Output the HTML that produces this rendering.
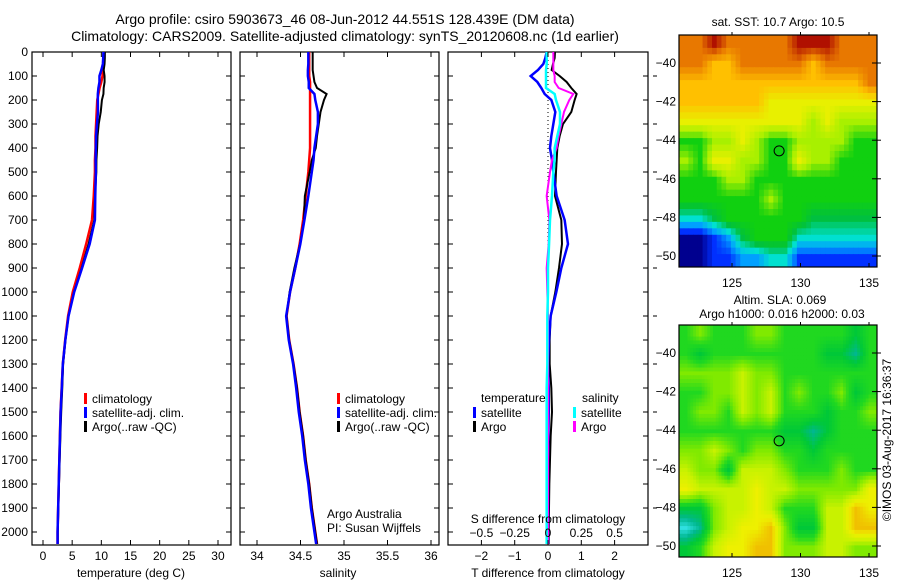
<!DOCTYPE html>
<html><head><meta charset="utf-8">
<style>
body{margin:0;background:#fff;}
svg{display:block;font-family:"Liberation Sans",sans-serif;}
text{font-size:12px;fill:#000;}
</style></head>
<body>
<svg id="c" width="900" height="580" viewBox="0 0 900 580">
<defs>
<clipPath id="m1c"><rect x="679" y="35" width="198" height="232"/></clipPath>
<clipPath id="m2c"><rect x="679" y="325" width="198" height="232"/></clipPath></defs>
<text x="345" y="24" text-anchor="middle" style="font-size:14px">Argo profile: csiro 5903673_46 08-Jun-2012 44.551S 128.439E (DM data)</text>
<text x="345" y="41" text-anchor="middle" style="font-size:14px">Climatology: CARS2009. Satellite-adjusted climatology: synTS_20120608.nc (1d earlier)</text>
</svg>
<script>
const depths=[0,25,50,75,100,125,150,175,200,250,300,350,400,450,500,600,700,800,900,1000,1100,1200,1300,1400,1500,1600,1700,1800,1900,2000,2050];
const tClim=[10.4,10.4,10.4,10.3,10.2,10.0,9.7,9.5,9.3,9.2,9.1,9.0,9.0,8.9,8.9,8.7,8.4,7.4,6.3,5.1,4.3,3.8,3.4,3.2,3.0,2.9,2.8,2.7,2.6,2.5,2.5];
const sClim=[34.60,34.60,34.60,34.60,34.60,34.61,34.61,34.61,34.61,34.61,34.61,34.61,34.61,34.60,34.59,34.56,34.53,34.49,34.44,34.38,34.34,34.37,34.42,34.46,34.49,34.53,34.56,34.60,34.63,34.67,34.69];
const tDiffArgo=[.21,.2,.15,.11,.35,.56,.7,.86,.8,.7,.45,.35,.28,.26,.24,.21,.4,.42,.33,.22,.08,.05,.05,.1,.12,.08,.06,.04,.03,.02,.02];
const tDiffSat=[-.04,-.08,-.14,-.3,-.52,-.32,-.2,-.1,.1,.22,.16,.1,.06,.12,.16,.26,.5,.6,.4,.25,.08,.03,0,.02,.02,.01,0,0,0,0,0];
const sDiffArgo=[.04,.04,.04,.04,.05,.05,.08,.19,.16,.12,.1,.08,.065,.03,.015,-.01,.01,.005,-.01,-.005,0,0,0,0,0,0,0,0,0,0,0];
const sDiffSat=[-.01,-.01,-.01,-.015,-.015,-.015,-.015,.05,.06,.09,.09,.07,.05,.05,.04,.03,.015,.008,0,0,-.005,-.005,-.005,-.01,-.01,-.01,-.01,-.01,-.01,-.01,-.01];
const depthTicks=[0,100,200,300,400,500,600,700,800,900,1000,1100,1200,1300,1400,1500,1600,1700,1800,1900,2000];
const tempTicks=[0,5,10,15,20,25,30];
const salTicks=[34,34.5,35,35.5,36];
const tdTicks=[-2,-1,0,1,2];
const sdTicks=[-0.5,-0.25,0,0.25,0.5];
const sstGrid=["99a99999aaa999","99889999989999","88888888888889","88888877777777","77777777767666","55667655666655","65776655766555","55566555555555","55555565555555","33455555544444","00124555333333","00112233111111"];
const slaGrid=["34333443333323","32333333332213","44445443333333","33445453433423","34435453332334","33333332212333","44543443323333","54425554333433","65555655444446","22455653335576","01456674225577","23566774445544"];
const latTicks=[-40,-42,-44,-46,-48,-50];
const lonTicks=[125,130,135];
const argoPos=[128.439,-44.551];

const S=document.getElementById('c'),NS='http://www.w3.org/2000/svg';
function mk(t,a,p){const e=document.createElementNS(NS,t);for(const k in a)e.setAttribute(k,a[k]);(p||S).appendChild(e);return e;}
function tx(x,y,s,anchor){const e=mk('text',{x:x,y:y,'text-anchor':anchor||'start'});e.textContent=s;return e;}
const yD=d=>52+d*0.24;
const xT=v=>43+v*5.833;
const xS=v=>257+(v-34)*87;
const xTD=v=>548+v*33.3;
const xSD=v=>548+v*133.2;
const clim2=(a,b)=>a.map((v,i)=>v+b[i]);

function frame(x0,x1,name){
  const r=mk('rect',{x:x0,y:52,width:x1-x0,height:493,fill:'none',stroke:'#000','stroke-width':1.2});
  
  
  depthTicks.forEach(d=>{mk('line',{x1:x0,x2:x0+5,y1:yD(d),y2:yD(d),stroke:'#000'});mk('line',{x1:x1-5,x2:x1,y1:yD(d),y2:yD(d),stroke:'#000'});});
}
function line(xs,ys,col,name,w){
  const p=mk('polyline',{points:xs.map((x,i)=>x+','+ys[i]).join(' '),fill:'none',stroke:col,'stroke-width':w||2.5});
  
  
}
function xticks(x0,ticks,fx,y,labels){
  ticks.forEach((t,i)=>{const x=fx(t);mk('line',{x1:x,x2:x,y1:545,y2:540,stroke:'#000'});mk('line',{x1:x,x2:x,y1:52,y2:57,stroke:'#000'});
    const e=tx(x,y,labels?labels[i]:String(t),'middle');});
}
function legendRow(x,y,col,label){mk('rect',{x:x,y:y-10,width:3,height:11,fill:col});const e=tx(x+8,y,label);}

depthTicks.forEach(d=>{const e=tx(28,yD(d)+4,String(d),'end');});

frame(32,231,'temperature-panel');
const ys=depths.map(yD);
line(tClim.map(xT),ys,'#f00','temp-climatology-line');
line(clim2(tClim,tDiffArgo).map(xT),ys,'#000','temp-argo-line',2);
line(clim2(tClim,tDiffSat).map(xT),ys,'#00f','temp-satellite-line');
xticks(32,tempTicks,xT,560);
let e=tx(131,577,'temperature (deg C)','middle');
legendRow(84,403,'#f00','climatology');legendRow(84,417,'#00f','satellite-adj. clim.');legendRow(84,431,'#000','Argo(..raw -QC)');

frame(240,439,'salinity-panel');
line(sClim.map(xS),ys,'#f00','sal-climatology-line');
line(clim2(sClim,sDiffArgo).map(xS),ys,'#000','sal-argo-line',2);
line(clim2(sClim,sDiffSat).map(xS),ys,'#00f','sal-satellite-line');
xticks(240,salTicks,xS,560,['34','34.5','35','35.5','36']);
e=tx(338,577,'salinity','middle');
legendRow(337,403,'#f00','climatology');legendRow(337,417,'#00f','satellite-adj. clim.');legendRow(337,431,'#000','Argo(..raw -QC)');
tx(327,518,'Argo Australia');tx(327,532,'PI: Susan Wijffels');

frame(448,648,'difference-panel');
mk('line',{x1:548,x2:548,y1:52,y2:545,stroke:'#000','stroke-dasharray':'1,3'});
line(tDiffArgo.map(xTD),ys,'#000','tdiff-argo-line',2);
line(tDiffSat.map(xTD),ys,'#00f','tdiff-satellite-line');
line(sDiffArgo.map(xSD),ys,'#f0f','sdiff-argo-line',2);
line(sDiffSat.map(xSD),ys,'#0ff','sdiff-satellite-line');
xticks(448,tdTicks,xTD,560,['−2','−1','0','1','2']);
sdTicks.forEach(t=>{const x=xSD(t);const e=tx(x,537,t===0?'0':String(t).replace('-','−'),'middle');});
tx(548,523,'S difference from climatology','middle');
e=tx(548,577,'T difference from climatology','middle');
tx(481,402,'temperature');legendRow(473,417,'#00f','satellite');legendRow(473,431,'#000','Argo');
tx(582,402,'salinity');legendRow(573,417,'#0ff','satellite');legendRow(573,431,'#f0f','Argo');
depthTicks.forEach(d=>{if(d%200===100)mk('line',{x1:653,x2:657,y1:yD(d),y2:yD(d),stroke:'#000'});});

const sstCols=['#00008f','#0030ff','#00a0ff','#00e0d0','#00c040','#10d010','#a8f000','#e8f000','#ffc000','#e87800','#b01000'];
const slaCols=['#30e0e0','#00b890','#00c838','#20d820','#80ea00','#c8f200','#eef000','#f0c000'];
function hex2(c){return [1,3,5].map(i=>parseInt(c.substr(i,2),16));}
function cmap(cols,v){v=Math.max(0,Math.min(cols.length-1,v));const i=Math.min(cols.length-2,Math.floor(v)),f=v-i;
  const a=hex2(cols[i]),b=hex2(cols[i+1]);return 'rgb('+a.map((x,k)=>Math.round(x+(b[k]-x)*f)).join(',')+')';}
function map(top,grid,cols,name,up){
  const g=mk('g',{'clip-path':'url(#'+(top<100?'m1c':'m2c')+')'});
  
  
  const V=grid.map(r=>[...r].map(c=>parseInt(c,16)));
  const rows=V.length,ncol=V[0].length,NR=rows*up,NC=ncol*up,cw=198/NC,rh=232/NR;
  const at=(r,c)=>V[Math.max(0,Math.min(rows-1,r))][Math.max(0,Math.min(ncol-1,c))];
  for(let r=0;r<NR;r++)for(let c=0;c<NC;c++){
    const fr=(r+0.5)/up-0.5,fc=(c+0.5)/up-0.5,r0=Math.floor(fr),c0=Math.floor(fc),dr=fr-r0,dc=fc-c0;
    const v=at(r0,c0)*(1-dr)*(1-dc)+at(r0,c0+1)*(1-dr)*dc+at(r0+1,c0)*dr*(1-dc)+at(r0+1,c0+1)*dr*dc;
    mk('rect',{x:(679+c*cw).toFixed(2),y:(top+r*rh).toFixed(2),width:(cw+0.5).toFixed(2),height:(rh+0.5).toFixed(2),fill:cmap(cols,v)},g);
  }
  mk('rect',{x:679,y:top,width:198,height:232,fill:'none',stroke:'#000','stroke-width':1.2});
  const lat0=top+28;
  latTicks.forEach(l=>{const y=lat0+(-40-l)*19.3;mk('line',{x1:872,x2:877,y1:y,y2:y,stroke:'#000'});mk('line',{x1:877,x2:881,y1:y,y2:y,stroke:'#000'});
    const t=tx(676,y+4,'−'+(-l),'end');});
  lonTicks.forEach(l=>{const x=732+(l-125)*13.7;mk('line',{x1:x,x2:x,y1:top,y2:top-3,stroke:'#000'});mk('line',{x1:x,x2:x,y1:top+232,y2:top+228,stroke:'#000'});
    const t=tx(x,top+252,String(l),'middle');});
  const c=mk('circle',{cx:732+(argoPos[0]-125)*13.7,cy:lat0+(-40-argoPos[1])*19.3,r:5,fill:'none',stroke:'#000','stroke-width':1});
  
  
}
map(35,sstGrid,sstCols,'sst-map',3);
map(325,slaGrid,slaCols,'sla-map',5);
tx(778,26,'sat. SST: 10.7 Argo: 10.5','middle');
tx(780,304,'Altim. SLA: 0.069','middle');
tx(782,318,'Argo h1000: 0.016 h2000: 0.03','middle');
e=tx(0,0,'©IMOS 03-Aug-2017 16:36:37','middle');e.setAttribute('transform','translate(891,440) rotate(-90)');

</script>
</body></html>
